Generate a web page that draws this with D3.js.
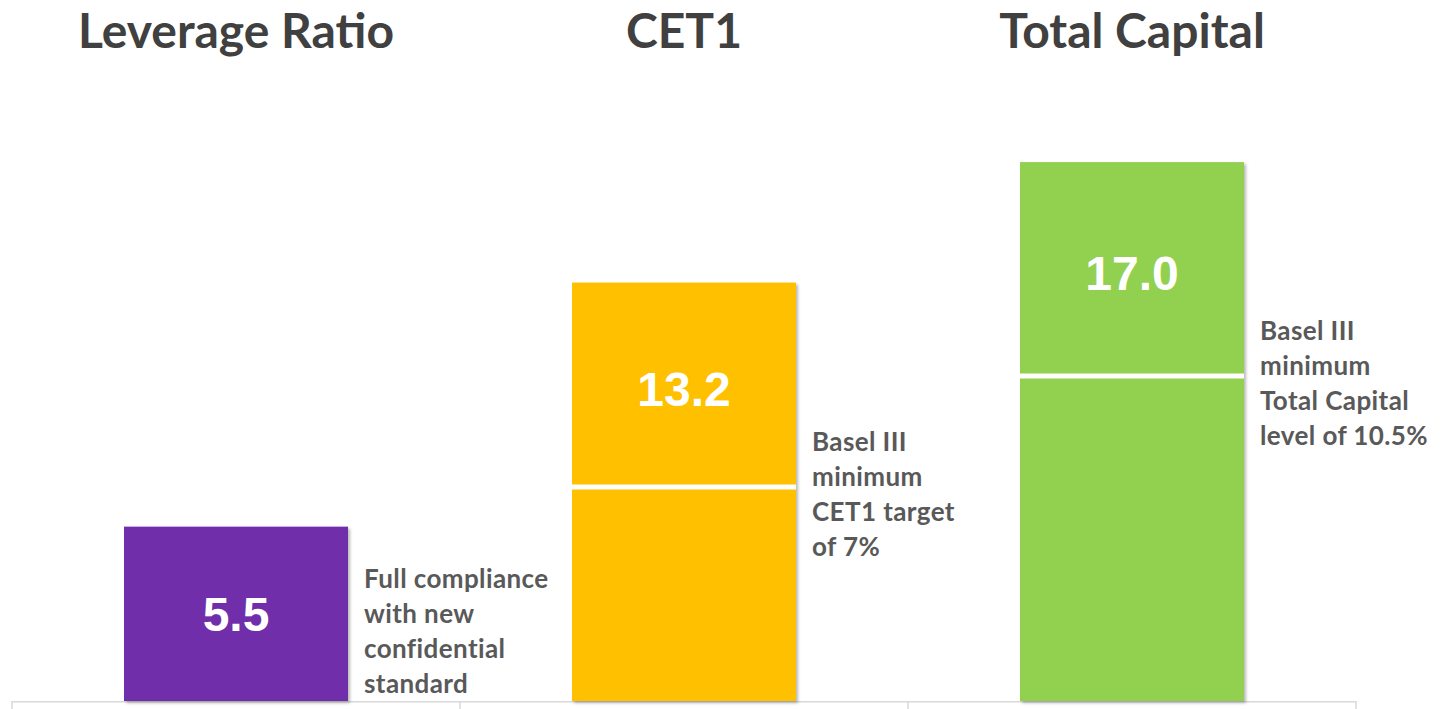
<!DOCTYPE html>
<html lang="en">
<head>
<meta charset="utf-8">
<title>Capital ratios</title>
<script src="https://d3js.org/d3.v7.min.js"></script>
<style>
  body { margin: 0; background: #ffffff; }
  svg { display: block; }
</style>
</head>
<body>
<div id="container"></div>
<script>
// data
var categories = ["Leverage Ratio", "CET1", "Total Capital"];
var values = [5.5, 13.2, 17.0];
var minimums = [null, 6.75, 10.25];   // white line inside the bar
var barColors = ["#6f2faa", "#ffc000", "#92d050"];
var notes = [
  ["Full compliance", "with new", "confidential", "standard"],
  ["Basel III", "minimum", "CET1 target", "of 7%"],
  ["Basel III", "minimum", "Total Capital", "level of 10.5%"]
];

var w = 1446, h = 709;
var svg = d3.select("#container").append("svg")
  .attr("width", w).attr("height", h);

var defs = svg.append("defs");
var f = defs.append("filter").attr("id", "shadow")
  .attr("x", "-10%").attr("y", "-10%").attr("width", "120%").attr("height", "120%");
f.append("feDropShadow").attr("dx", 2).attr("dy", 2)
  .attr("stdDeviation", 1.5).attr("flood-color", "#000").attr("flood-opacity", 0.28);

// cells between the axis ticks, bar takes the middle half
var x = d3.scaleBand().domain(categories).range([12, 1356])
  .paddingInner(0.5).paddingOuter(0.25);
var y = d3.scaleLinear().domain([0, 20]).range([701, 67]);
var step = x.step();

// axis line + boundary ticks
var axis = svg.append("g").attr("stroke", "#d9d9d9").attr("stroke-width", 1.5);
axis.append("line").attr("x1", 12).attr("x2", 1356)
  .attr("y1", y(0) + 0.75).attr("y2", y(0) + 0.75);
var edges = categories.map(function(c) { return x(c) - step * 0.25; });
edges.push(x(categories[categories.length - 1]) + step * 0.75);
axis.selectAll(".tick").data(edges).enter().append("line")
  .attr("x1", function(d) { return d; }).attr("x2", function(d) { return d; })
  .attr("y1", y(0)).attr("y2", h);

// bars
svg.selectAll("rect.bar").data(values).enter().append("rect")
  .attr("class", "bar")
  .attr("x", function(d, i) { return x(categories[i]); })
  .attr("y", function(d) { return y(d); })
  .attr("width", x.bandwidth())
  .attr("height", function(d) { return y(0) - y(d); })
  .attr("fill", function(d, i) { return barColors[i]; })
  .attr("filter", "url(#shadow)");

// minimum lines
svg.selectAll("line.min").data(minimums).enter()
  .filter(function(d) { return d !== null; })
  .append("line").attr("class", "min")
  .attr("x1", function(d) { var i = minimums.indexOf(d); return x(categories[i]); })
  .attr("x2", function(d) { var i = minimums.indexOf(d); return x(categories[i]) + x.bandwidth(); })
  .attr("y1", function(d) { return y(d); })
  .attr("y2", function(d) { return y(d); })
  .attr("stroke", "#ffffff").attr("stroke-width", 5);

// value labels, centred in the segment above the minimum line
svg.selectAll("text.val").data(values).enter().append("text")
  .attr("class", "val")
  .attr("x", function(d, i) { return x(categories[i]) + x.bandwidth() / 2; })
  .attr("y", function(d, i) {
    var lo = minimums[i] === null ? 0 : minimums[i];
    return (y(d) + y(lo)) / 2 + (minimums[i] === null ? 0 : 4);
  })
  .attr("dy", "0.36em")
  .attr("text-anchor", "middle")
  .attr("font-family", "'Liberation Sans', Arial, sans-serif")
  .attr("font-weight", "bold").attr("font-size", 48)
  .attr("fill", "#ffffff")
  .text(function(d) { return d.toFixed(1); });

// titles
svg.selectAll("text.title").data(categories).enter().append("text")
  .attr("class", "title")
  .attr("x", function(d) { return x(d) + x.bandwidth() / 2; })
  .attr("y", 48)
  .attr("text-anchor", "middle")
  .attr("font-family", "Lato, 'Open Sans', sans-serif")
  .attr("font-weight", "bold").attr("font-size", 48)
  .attr("fill", "#404040")
  .text(function(d) { return d; });

// side notes
var lineH = 35;
notes.forEach(function(lines, i) {
  var first;
  if (minimums[i] === null) {
    first = y(0) - 8 - (lines.length - 1) * lineH;
  } else {
    first = y(minimums[i]) - 36;
  }
  var tx = x(categories[i]) + x.bandwidth() + 16;
  var t = svg.append("text")
    .attr("x", tx)
    .attr("y", first)
    .attr("font-family", "Lato, 'Open Sans', sans-serif")
    .attr("font-weight", "bold").attr("font-size", 26)
    .attr("letter-spacing", 0.4)
    .attr("fill", "#595959");
  t.selectAll("tspan").data(lines).enter().append("tspan")
    .attr("x", tx)
    .attr("dy", function(d, k) { return k === 0 ? 0 : lineH; })
    .text(function(d) { return d; });
});
</script>
</body>
</html>
